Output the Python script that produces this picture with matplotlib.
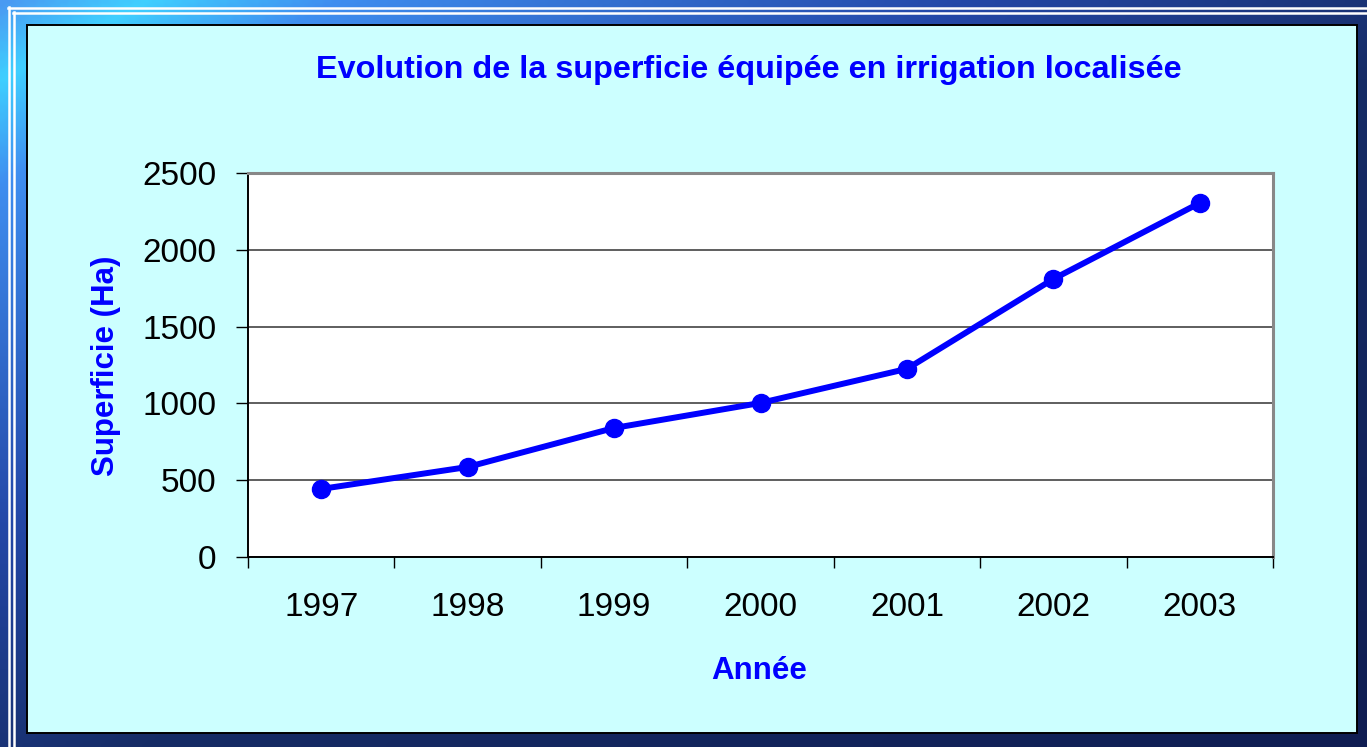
#!/usr/bin/env python
# -*- coding: utf-8 -*-
"""
Evolution de la superficie équipée en irrigation localisée (1997-2003)
"""

import numpy as np
import matplotlib
matplotlib.use('Agg')
import matplotlib.pyplot as plt
from matplotlib.colors import LinearSegmentedColormap
from matplotlib.patches import Rectangle

plt.rcParams['font.family'] = ['Liberation Sans', 'DejaVu Sans']

# données
annees = ['1997', '1998', '1999', '2000', '2001', '2002', '2003']
superficie = [443, 586, 840, 1003, 1225, 1810, 2305]
yticks = [0, 500, 1000, 1500, 2000, 2500]

TITRE = 'Evolution de la superficie équipée en irrigation localisée'
BLEU = '#0000ff'

W, H = 1367, 747


def draw_frame(fig):
    """cadre dégradé + panneau cyan"""
    bg = fig.add_axes([0, 0, 1, 1])
    bg.set_xlim(0, W)
    bg.set_ylim(H, 0)
    bg.axis('off')

    cmap = LinearSegmentedColormap.from_list('cadre', [
        (0.0, '#4a9af2'), (0.05, '#40d0ff'), (0.12, '#3f8ef0'),
        (0.35, '#2448a8'), (0.55, '#162c66'), (1.0, '#0f1d52')])
    xx, yy = np.meshgrid(np.linspace(0, 1, 300), np.linspace(0, 1, 200))
    bg.imshow(cmap((xx + yy) / 2), extent=[0, W, H, 0], aspect='auto',
              interpolation='bilinear', zorder=0)

    # filets blancs haut et gauche
    bg.plot([8, W], [7.5, 7.5], color='white', lw=1.8, zorder=1)
    bg.plot([13, W], [12.5, 12.5], color='white', lw=1.8, zorder=1)
    bg.plot([9, 9], [7, H], color='white', lw=1.8, zorder=1)
    bg.plot([13.5, 13.5], [12, H], color='white', lw=1.8, zorder=1)

    # panneau
    bg.add_patch(Rectangle((27, 25), 1330, 708, facecolor='#ccffff',
                           edgecolor='black', lw=1.4, zorder=2))


def plot_superficie(output_path):
    fig = plt.figure(figsize=(W / 100, H / 100), dpi=100)
    draw_frame(fig)

    ax = fig.add_axes([248 / W, 1 - 557 / H, 1025 / W, 384 / H])
    ax.set_facecolor('white')
    x = np.arange(len(annees))
    ax.plot(x, superficie, color=BLEU, lw=4.3, marker='o', markersize=13,
            zorder=3, clip_on=False)

    ax.set_xlim(-0.5, len(annees) - 0.5)
    ax.set_ylim(0, 2500)
    ax.set_yticks(yticks)
    ax.set_xticks(x)
    ax.set_xticklabels(annees)
    ax.set_xticks(np.arange(len(annees) + 1) - 0.5, minor=True)

    ax.tick_params(axis='y', direction='out', length=8.6, width=1.0,
                   pad=14, labelsize=24, colors='black')
    ax.tick_params(axis='x', which='major', length=0, pad=25.5, labelsize=24)
    ax.tick_params(axis='x', which='minor', direction='out', length=8,
                   width=1.0, color='black')

    ax.grid(True, axis='y', color='#333333', lw=1.1)
    ax.set_axisbelow(True)

    for side in ['left', 'bottom']:
        ax.spines[side].set_color('black')
        ax.spines[side].set_linewidth(1.4)
    for side in ['top', 'right']:
        ax.spines[side].set_color('#888888')
        ax.spines[side].set_linewidth(2.2)

    # titres
    fig.text(749 / W, 1 - 78 / H, TITRE, color=BLEU, fontsize=23.3,
             fontweight='bold', ha='center', va='baseline')
    fig.text(106 / W, 1 - 366 / H, 'Superficie (Ha)', color=BLEU,
             fontsize=22.5, fontweight='bold', rotation=90,
             ha='center', va='center')
    fig.text(759 / W, 1 - 679 / H, 'Année', color=BLEU, fontsize=22.5,
             fontweight='bold', ha='center', va='baseline')

    fig.savefig(output_path, dpi=100)
    plt.close(fig)


if __name__ == '__main__':
    plot_superficie('out.png')
